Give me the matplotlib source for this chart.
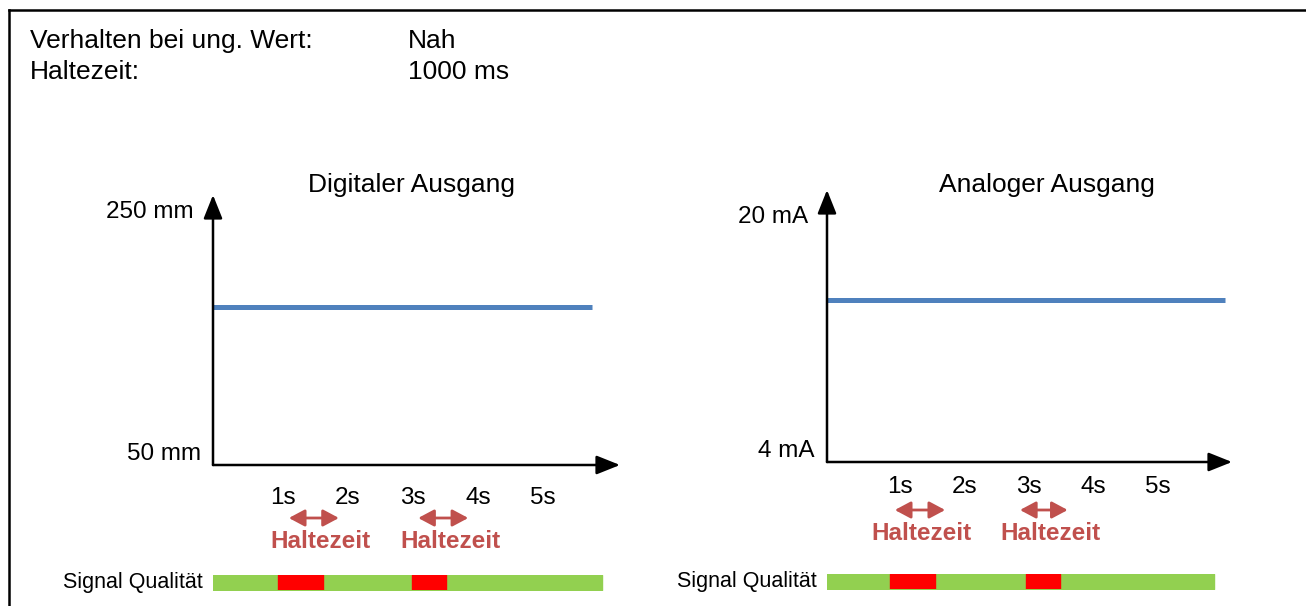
import matplotlib
matplotlib.use("Agg")
import matplotlib.pyplot as plt
from matplotlib.transforms import blended_transform_factory, ScaledTranslation
from matplotlib.lines import Line2D

plt.rcParams['font.family'] = ['Liberation Sans', 'DejaVu Sans']

W, H = 1306, 606

# header
header_keys = ['Verhalten bei ung. Wert:', 'Haltezeit:']
header_vals = ['Nah', '1000 ms']

# time axis
tick_pos = [1, 2, 3, 4, 5]
tick_labels = ['1s', '2s', '3s', '4s', '5s']

# digital output (mm)
dig_range = [50, 250]
dig_t = [-0.08, 5.75]
dig_mm = [175, 175]
dig_hold = [(1.09, 1.86), (3.08, 3.85)]
dig_hold_label = [1.57, 3.57]
dig_bar = (-0.08, 5.90)
dig_bad = [(0.92, 0.70), (2.98, 0.52)]

# analog output (mA)
ana_range = [4, 20]
ana_t = [-0.13, 6.04]
ana_mA = [14.6, 14.6]
ana_hold = [(0.92, 1.70), (2.86, 3.60)]
ana_hold_label = [1.33, 3.34]
ana_bar = (-0.13, 5.87)
ana_bad = [(0.84, 0.70), (2.95, 0.53)]

BLUE = '#4F81BD'
GREEN = '#92D050'
RED = '#FF0000'
HOLD = '#C0504D'
FS_HEAD = 19
FS = 17.5


def frac(x0, y0, x1, y1):
    # pixel box -> figure fraction [left, bottom, width, height]
    return [x0 / W, 1 - y1 / H, (x1 - x0) / W, (y1 - y0) / H]


def shift(ax, dx):
    return ax.transData + ScaledTranslation(dx / 100, 0, fig.dpi_scale_trans)


fig = plt.figure(figsize=(W / 100, H / 100), dpi=100)

# outer frame (left and top visible)
fig.add_artist(Line2D([9 / W, 9 / W], [0, 1 - 10 / H], color='black', lw=1.8))
fig.add_artist(Line2D([9 / W, 1], [1 - 10 / H, 1 - 10 / H], color='black', lw=1.8))

for i, (k, v) in enumerate(zip(header_keys, header_vals)):
    y = 1 - (41 + 31 * i) / H
    fig.text(30 / W, y, k, fontsize=FS_HEAD, va='center', ha='left')
    fig.text(408 / W, y, v, fontsize=FS_HEAD, va='center', ha='left')


def panel(box, bar_box, xlim, ylim, ylabels, title, title_x, t, vals,
          hold, hold_label, bar, bad, tick_pad, hold_y, label_y):
    ax = fig.add_axes(frac(*box))
    ax.set_xlim(*xlim)
    ax.set_ylim(*ylim)
    for s in ax.spines.values():
        s.set_visible(False)
    ax.set_yticks([])
    ax.set_xticks(tick_pos)
    ax.set_xticklabels(tick_labels, fontsize=FS)
    ax.tick_params(axis='x', length=0, pad=tick_pad)
    ax.patch.set_alpha(0)

    # axis arrows
    arrow = dict(arrowstyle='-|>,head_length=0.8,head_width=0.32',
                 color='black', lw=1.8, mutation_scale=18, shrinkA=0, shrinkB=0)
    ax.annotate('', xy=(1, 0), xytext=(0, 0), xycoords='axes fraction',
                arrowprops=arrow)
    ax.annotate('', xy=(0, 1), xytext=(0, 0), xycoords='axes fraction',
                arrowprops=arrow)

    ax.plot(t, vals, color=BLUE, lw=3.6, solid_capstyle='butt', clip_on=False)

    lo, hi = ylabels
    ax.text(xlim[0], lo[0], lo[1], fontsize=FS, ha='right', va='bottom',
            transform=shift(ax, -12))
    ax.text(xlim[0], hi[0], hi[1], fontsize=FS, ha='right', va='center',
            transform=shift(ax, -19))

    fig.text(title_x / W, 1 - 185 / H, title, fontsize=FS_HEAD,
             ha='center', va='center')

    # hold-time arrows
    tr = blended_transform_factory(ax.transData, fig.transFigure)
    for (a, b), c in zip(hold, hold_label):
        ax.annotate('', xy=(b, 1 - hold_y / H), xytext=(a, 1 - hold_y / H),
                    xycoords=tr, textcoords=tr, annotation_clip=False,
                    arrowprops=dict(arrowstyle='<|-|>,head_length=0.6,head_width=0.32',
                                    color=HOLD, lw=2, mutation_scale=16,
                                    shrinkA=0, shrinkB=0))
        ax.text(c, 1 - label_y / H, 'Haltezeit', transform=tr, color=HOLD,
                fontsize=FS, fontweight='bold', ha='center', va='center')

    # signal quality strip
    bx = fig.add_axes(frac(*bar_box))
    bx.set_xlim(*xlim)
    bx.set_ylim(0, 1)
    bx.axis('off')
    bx.broken_barh([(bar[0], bar[1] - bar[0])], (0, 1), color=GREEN)
    bx.broken_barh(bad, (0, 1), color=RED)
    bx.text(xlim[0], 0.5, 'Signal Qualität', fontsize=15.5, ha='right',
            va='center', transform=shift(bx, -10))
    return ax


# left panel: pixel 213 -> t=-0.077, 65 px per second
panel((213, 195, 620, 465), (213, 575, 620, 590),
      ((213 - 218) / 65, (620 - 218) / 65), (50, 250 + 17 * 200 / 253),
      ((dig_range[0], '50 mm'), (dig_range[1], '250 mm')),
      'Digitaler Ausgang', 412, dig_t, dig_mm,
      dig_hold, dig_hold_label, dig_bar, dig_bad, 16, 518, 542)

# right panel: pixel 827 -> t=-0.13, 64.5 px per second
panel((827, 190, 1232, 462), (827, 574, 1232, 589),
      ((827 - 835.5) / 64.5, (1232 - 835.5) / 64.5), (4, 20 + 27 * 16 / 245),
      ((ana_range[0], '4 mA'), (ana_range[1], '20 mA')),
      'Analoger Ausgang', 1047, ana_t, ana_mA,
      ana_hold, ana_hold_label, ana_bar, ana_bad, 10, 510, 534)

fig.savefig('out.png', dpi=100)
